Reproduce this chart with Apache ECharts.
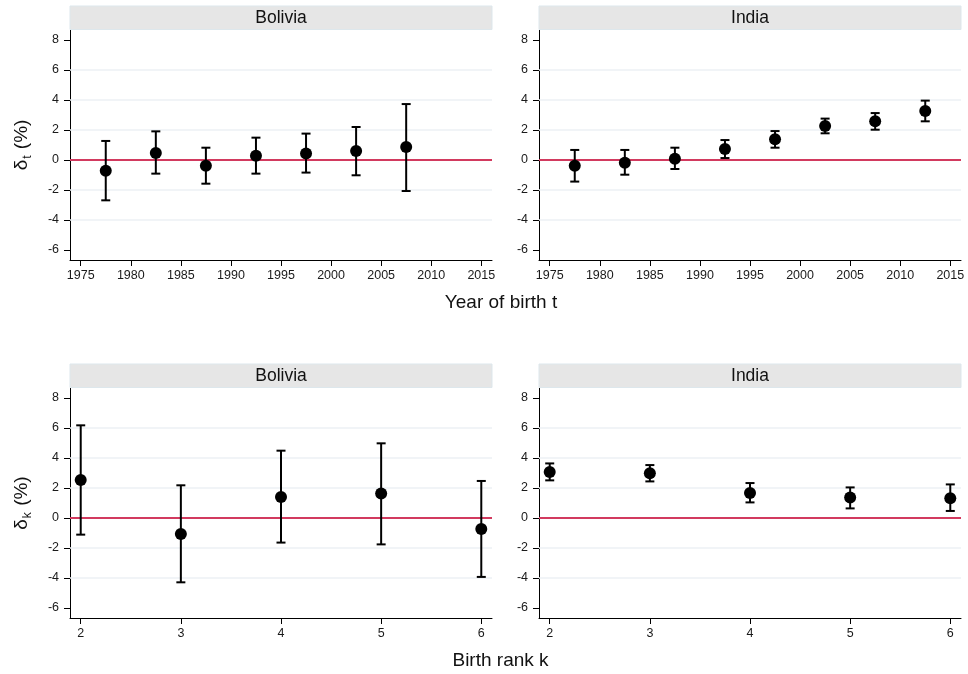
<!DOCTYPE html>
<html>
<head>
<meta charset="utf-8">
<script src="https://cdn.jsdelivr.net/npm/echarts@6/dist/echarts.min.js"></script>
<style>
  html, body { margin: 0; padding: 0; background: #ffffff; }
  #chart { width: 968px; height: 674px; }
</style>
</head>
<body>
<div id="chart"></div>
<script>
// Birth-cohort estimates (5-year cohorts, plotted at cohort midpoints)
const years = [1977.5, 1982.5, 1987.5, 1992.5, 1997.5, 2002.5, 2007.5, 2012.5];

const boliviaT   = [-0.71, 0.47, -0.38, 0.29, 0.44, 0.60, 0.87];
const boliviaTLo = [-2.69, -0.91, -1.58, -0.91, -0.84, -1.02, -2.07];
const boliviaTHi = [1.27, 1.91, 0.82, 1.49, 1.76, 2.20, 3.73];

const indiaT   = [-0.38, -0.18, 0.09, 0.73, 1.38, 2.27, 2.58, 3.27];
const indiaTLo = [-1.44, -0.98, -0.60, 0.13, 0.82, 1.78, 2.02, 2.58];
const indiaTHi = [0.67, 0.67, 0.82, 1.33, 1.93, 2.76, 3.13, 3.96];

// Birth-rank estimates
const ranks = [2, 3, 4, 5, 6];

const boliviaK   = [2.53, -1.07, 1.40, 1.64, -0.73];
const boliviaKLo = [-1.11, -4.29, -1.64, -1.76, -3.93];
const boliviaKHi = [6.18, 2.18, 4.49, 4.98, 2.47];

const indiaK   = [3.07, 2.98, 1.67, 1.36, 1.31];
const indiaKLo = [2.51, 2.44, 1.04, 0.64, 0.47];
const indiaKHi = [3.64, 3.53, 2.33, 2.04, 2.24];

// Tick labels
const yTicks = [-6, -4, -2, 0, 2, 4, 6, 8];
const yGridValues = [-4, -2, 2, 4, 6];
const yearTicks = [1975, 1980, 1985, 1990, 1995, 2000, 2005, 2010, 2015];
const rankTicks = [2, 3, 4, 5, 6];

const FONT = '"Liberation Sans", Arial, Helvetica, sans-serif';
const ZERO_RED = '#d23a5f';

const chart = echarts.init(document.getElementById('chart'), null, { renderer: 'canvas' });

const panels = [
  { name: 'Bolivia', grid: { left: 70, top: 30 },  x: years, est: boliviaT, lo: boliviaTLo, hi: boliviaTHi, kind: 'year' },
  { name: 'India',   grid: { left: 539, top: 30 }, x: years, est: indiaT,   lo: indiaTLo,   hi: indiaTHi,   kind: 'year' },
  { name: 'Bolivia', grid: { left: 70, top: 388 },  x: ranks, est: boliviaK, lo: boliviaKLo, hi: boliviaKHi, kind: 'rank' },
  { name: 'India',   grid: { left: 539, top: 388 }, x: ranks, est: indiaK,   lo: indiaKLo,   hi: indiaKHi,   kind: 'rank' }
];

const PW = 422, PH = 230;

const grids = [], xAxes = [], yAxes = [], series = [], graphics = [];

function errorBarItem(params, api) {
  const x = api.value(0);
  const pLo = api.coord([x, api.value(1)]);
  const pHi = api.coord([x, api.value(2)]);
  const hw = 4.5;
  const st = { stroke: '#000', lineWidth: 2 };
  return {
    type: 'group',
    children: [
      { type: 'line', shape: { x1: pLo[0], y1: pLo[1], x2: pHi[0], y2: pHi[1] }, style: st },
      { type: 'line', shape: { x1: pLo[0] - hw, y1: pLo[1], x2: pLo[0] + hw, y2: pLo[1] }, style: st },
      { type: 'line', shape: { x1: pHi[0] - hw, y1: pHi[1], x2: pHi[0] + hw, y2: pHi[1] }, style: st }
    ]
  };
}

const plainNumber = v => String(v);

panels.forEach((p, i) => {
  grids.push({ left: p.grid.left, top: p.grid.top, width: PW, height: PH, containLabel: false,
               show: true, backgroundColor: '#ffffff', borderWidth: 0 });

  const isYear = p.kind === 'year';
  xAxes.push({
    type: 'value', gridIndex: i,
    min: isYear ? 1973.93 : 1.893,
    max: isYear ? 2016.07 : 6.107,
    axisLine: { show: true, onZero: false, lineStyle: { color: '#000', width: 1 } },
    axisTick: { show: true, length: 6, customValues: isYear ? yearTicks : rankTicks,
                lineStyle: { color: '#000', width: 1 } },
    axisLabel: { customValues: isYear ? yearTicks : rankTicks, margin: 9, formatter: plainNumber,
                 color: '#1a1a1a', fontSize: 12.5, fontFamily: FONT },
    splitLine: { show: false }
  });

  const leftCol = (i % 2 === 0);
  yAxes.push({
    type: 'value', gridIndex: i,
    min: -6.67, max: 8.67,
    axisLine: { show: true, onZero: false, lineStyle: { color: '#000', width: 1 } },
    axisTick: { show: true, length: 6, customValues: yTicks, lineStyle: { color: '#000', width: 1 } },
    axisLabel: { customValues: yTicks, margin: 11, formatter: plainNumber,
                 color: '#1a1a1a', fontSize: 12.5, fontFamily: FONT },
    splitLine: { show: false },
    name: leftCol ? (isYear ? '{d|δ}{s|t}{p| (%)}' : '{d|δ}{s|k}{p| (%)}') : '',
    nameLocation: 'middle',
    nameRotate: 90,
    nameGap: 36,
    nameTextStyle: {
      color: '#111', fontFamily: FONT, fontSize: 19,
      rich: {
        d: { fontSize: 19, fontFamily: FONT, color: '#111', lineHeight: 24, verticalAlign: 'middle' },
        s: { fontSize: 12, fontFamily: FONT, color: '#111', lineHeight: 12, verticalAlign: 'bottom', padding: [0, 1, 0, 1] },
        p: { fontSize: 19, fontFamily: FONT, color: '#111', lineHeight: 24, verticalAlign: 'middle' }
      }
    }
  });

  const ciData = p.est.map((v, j) => [p.x[j], p.lo[j], p.hi[j]]);
  const ptData = p.est.map((v, j) => [p.x[j], v]);

  series.push({
    type: 'custom', xAxisIndex: i, yAxisIndex: i, z: 3,
    renderItem: errorBarItem,
    encode: { x: 0, y: [1, 2] },
    data: ciData, silent: true, animation: false
  });

  series.push({
    type: 'scatter', xAxisIndex: i, yAxisIndex: i, z: 4,
    symbol: 'circle', symbolSize: 12,
    itemStyle: { color: '#000', opacity: 1 },
    data: ptData, silent: true, animation: false,
    markLine: {
      z: 1, silent: true, symbol: 'none', animation: false,
      label: { show: false },
      data: yGridValues.map(v => ({ yAxis: v, lineStyle: { color: '#ecf1f4', width: 1.5, type: 'solid' } }))
        .concat([{ yAxis: 0, lineStyle: { color: ZERO_RED, width: 1.8, type: 'solid' } }])
    }
  });

  // panel header strip
  graphics.push({
    type: 'rect', silent: true, z: 10,
    shape: { x: p.grid.left, y: p.grid.top - 24, width: PW, height: 23.5 },
    style: { fill: '#e6e6e6', stroke: '#dde7ec', lineWidth: 1 }
  });
  graphics.push({
    type: 'text', silent: true, z: 11,
    x: p.grid.left + PW / 2, y: p.grid.top - 12,
    style: { text: p.name, fill: '#111', font: '17.5px ' + FONT, textAlign: 'center', textVerticalAlign: 'middle' }
  });
});

// shared x-axis titles
graphics.push({
  type: 'text', silent: true, x: 501, y: 303,
  style: { text: 'Year of birth t', fill: '#111', font: '19px ' + FONT, textAlign: 'center', textVerticalAlign: 'middle' }
});
graphics.push({
  type: 'text', silent: true, x: 500.5, y: 661,
  style: { text: 'Birth rank k', fill: '#111', font: '19px ' + FONT, textAlign: 'center', textVerticalAlign: 'middle' }
});

chart.setOption({
  backgroundColor: '#ffffff',
  animation: false,
  grid: grids,
  xAxis: xAxes,
  yAxis: yAxes,
  series: series,
  graphic: graphics
});
</script>
</body>
</html>
